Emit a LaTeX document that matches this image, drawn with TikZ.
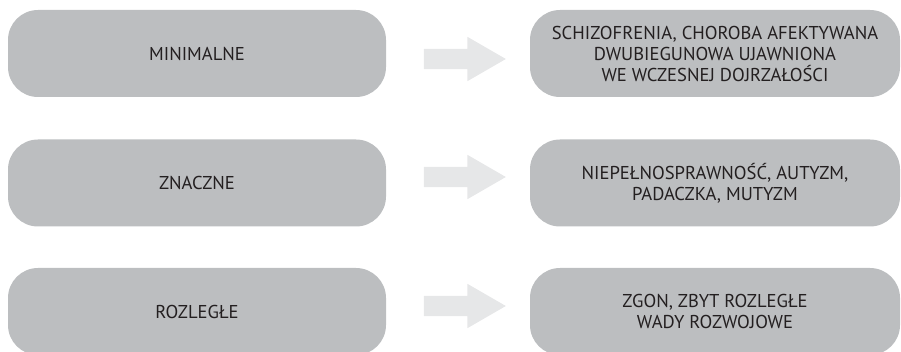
\documentclass[tikz,border=0pt]{standalone}
\usepackage{fontspec}
\setmainfont{PT Sans}
\usetikzlibrary{shapes.arrows}
\definecolor{boxgrey}{HTML}{BCBEC0}
\definecolor{arrowgrey}{HTML}{E6E7E8}
\definecolor{ink}{HTML}{231F20}
\begin{document}
\begin{tikzpicture}[x=1pt,y=-1pt,
  level/.style={fill=boxgrey, rounded corners=30pt, minimum width=378pt,
    minimum height=87pt, inner sep=0pt, text=ink, font=\fontsize{18.6}{21}\selectfont},
  effect/.style={fill=boxgrey, rounded corners=30pt, minimum width=370pt,
    minimum height=87pt, inner sep=0pt, text=ink, align=center,
    font=\fontsize{18.6}{21}\selectfont},
  pointer/.style={shape=single arrow, fill=arrowgrey, inner xsep=0pt, inner ysep=10pt,
    single arrow head extend=12pt, single arrow tip angle=60,
    minimum height=82pt}]
\useasboundingbox (0,0) rectangle (901,352);

\node[level]  (l1) at (197,53.5)  {MINIMALNE};
\node[level]  (l2) at (197,183)   {ZNACZNE};
\node[level]  (l3) at (197,311.5) {ROZLEGŁE};

\node[effect] (r1) at (715,53.5)  {SCHIZOFRENIA, CHOROBA AFEKTYWANA\\DWUBIEGUNOWA UJAWNIONA\\WE WCZESNEJ DOJRZAŁOŚCI};
\node[effect] (r2) at (715,183)   {NIEPEŁNOSPRAWNOŚĆ, AUTYZM,\\PADACZKA, MUTYZM};
\node[effect] (r3) at (715,311.5) {ZGON, ZBYT ROZLEGŁE\\WADY ROZWOJOWE};

\node[pointer] (a1) at (456,59)  {};
\node[pointer] (a2) at (456,177) {};
\node[pointer] (a3) at (456,306) {};
\end{tikzpicture}
\end{document}
